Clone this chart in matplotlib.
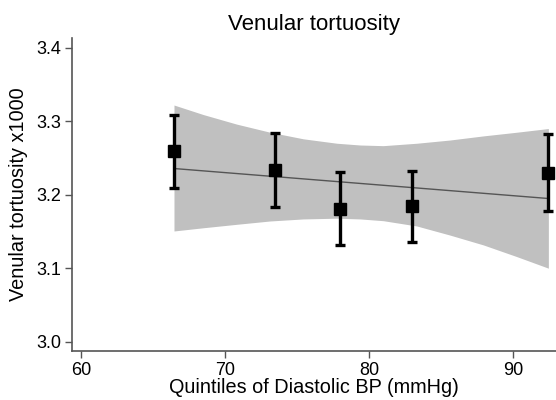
import numpy as np
import matplotlib
matplotlib.use('Agg')
import matplotlib.pyplot as plt

plt.rcParams['font.family'] = ['Liberation Sans', 'DejaVu Sans']

# quintile means (diastolic BP) and venular tortuosity x1000
bp = [66.46, 73.5, 78.0, 83.0, 92.45]
tort = [3.259, 3.233, 3.180, 3.184, 3.229]
err_lo = [3.209, 3.183, 3.132, 3.136, 3.178]
err_hi = [3.309, 3.284, 3.231, 3.232, 3.282]

# fitted line
fit_x = [66.46, 92.47]
fit_y = [3.2356, 3.1948]

# confidence band
band_x = [66.46, 68.5, 70.82, 73.13, 75.45, 77.77, 79.39, 81.0, 83.33, 85.64, 87.96, 90.28, 92.47]
band_hi = [3.322, 3.309, 3.296, 3.285, 3.276, 3.270, 3.2676, 3.2667, 3.270, 3.2744, 3.280, 3.285, 3.290]
band_lo = [3.1506, 3.155, 3.1597, 3.1642, 3.167, 3.168, 3.167, 3.1646, 3.1574, 3.145, 3.1316, 3.1157, 3.100]

fig = plt.figure(figsize=(5.56, 4.0), dpi=100)
ax = fig.add_axes([0.1295, 0.1225, 0.8705, 0.7825])

ax.fill_between(band_x, band_lo, band_hi, color='#c0c0c0', linewidth=0)
ax.plot(fit_x, fit_y, color='#555555', linewidth=1)

tort = np.array(tort)
yerr = [tort - np.array(err_lo), np.array(err_hi) - tort]
ax.errorbar(bp, tort, yerr=yerr, fmt='s', color='black', markersize=9,
            elinewidth=2.4, capsize=3.6, capthick=2.4, clip_on=False, zorder=5)

ax.set_xlim(59.375, 93.0)
ax.set_ylim(2.9873, 3.4132)
ax.set_xticks([60, 70, 80, 90])
ax.set_yticks([3.0, 3.1, 3.2, 3.3, 3.4])
ax.set_yticklabels(['3.0', '3.1', '3.2', '3.3', '3.4'])

for s in ['top', 'right']:
    ax.spines[s].set_visible(False)
for s in ['left', 'bottom']:
    ax.spines[s].set_color('#555555')
    ax.spines[s].set_linewidth(1.2)
ax.tick_params(colors='#555555', labelcolor='black', labelsize=13, length=5, width=1, pad=3)

ax.set_title('Venular tortuosity', fontsize=16, pad=6)
ax.set_xlabel('Quintiles of Diastolic BP (mmHg)', fontsize=14.3, labelpad=-1)
ax.set_ylabel('Venular tortuosity x1000', fontsize=14.3, labelpad=6)

fig.savefig('out.png', dpi=100)
